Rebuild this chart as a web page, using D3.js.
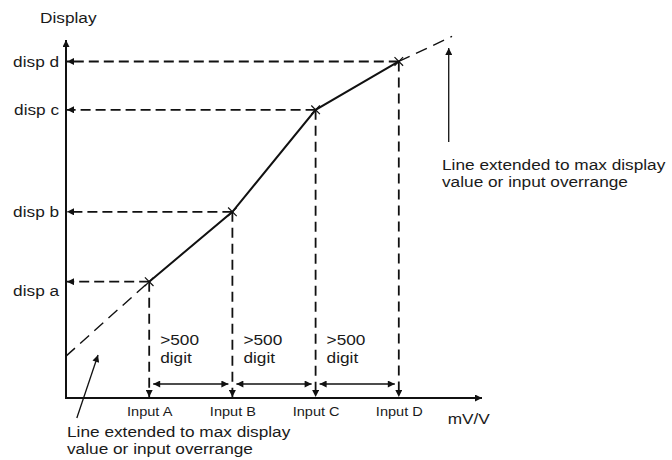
<!DOCTYPE html>
<html lang="en">
<head>
<meta charset="UTF-8">
<title>Linearisation</title>
<script src="https://cdn.jsdelivr.net/npm/d3@7"></script>
<style>
  body { margin: 0; background: #fff; }
  svg { display: block; font-family: Arial, "Liberation Sans", sans-serif; }
  text { fill: #1a1a1a; }
</style>
</head>
<body>
<div id="chart"></div>
<script>
// chart values
const inputLabels = ["Input A", "Input B", "Input C", "Input D"];
const inputVals = [1, 2, 3, 4];
const dispLabels = ["disp a", "disp b", "disp c", "disp d"];
const dispVals = [3.25, 5.2, 8.05, 9.4];
const extLow = [0, 1.17];     // start of dashed extension at the y axis
const extHigh = [4.64, 10.1]; // end of dashed extension past disp d
const gapLabels = [">500", "digit"];
const noteLines = ["Line extended to max display", "value or input overrange"];

const width = 672, height = 460;
const fs = 15;      // glyphs in the original are a bit wide, so stretch them
const sx = 1.15;

const x = d3.scaleLinear().domain([0, 5]).range([66, 482]);
const y = d3.scaleLinear().domain([0, 10]).range([398, 40]);

const svg = d3.select("#chart").append("svg")
    .attr("width", width)
    .attr("height", height);

const defs = svg.append("defs");
defs.append("marker")
    .attr("id", "arrow")
    .attr("viewBox", "0 0 10 10")
    .attr("refX", 10).attr("refY", 5)
    .attr("markerUnits", "userSpaceOnUse")
    .attr("markerWidth", 8).attr("markerHeight", 7)
    .attr("orient", "auto-start-reverse")
    .append("path").attr("d", "M0,0L10,5L0,10z").attr("fill", "#111");

const ink = "#111";

function label(px, py, lines, size, lh, scale) {
    const g = svg.append("g").attr("transform", `translate(${px},${py}) scale(${scale || sx},1)`);
    const t = g.append("text").attr("font-size", size || fs);
    lines.forEach((s, i) => t.append("tspan").attr("x", 0).attr("dy", i ? lh : 0).text(s));
    return t;
}

// axes drawn as plain arrows
svg.append("line")
    .attr("x1", x(0)).attr("y1", y(0)).attr("x2", x(0)).attr("y2", y(10))
    .attr("stroke", ink).attr("stroke-width", 2).attr("marker-end", "url(#arrow)");
svg.append("line")
    .attr("x1", x(0) - 1).attr("y1", y(0)).attr("x2", x(5)).attr("y2", y(0))
    .attr("stroke", ink).attr("stroke-width", 2).attr("marker-end", "url(#arrow)");

// tick labels
const xAxis = svg.append("g")
    .attr("transform", `translate(0,${y(0)})`)
    .call(d3.axisBottom(x).tickValues(inputVals).tickFormat((d, i) => inputLabels[i]).tickSize(0).tickPadding(9));
xAxis.select(".domain").remove();
xAxis.selectAll("text").attr("font-size", 13).attr("fill", "#1a1a1a")
    .attr("transform", "scale(1.12,1)");

const yAxis = svg.append("g")
    .attr("transform", `translate(${x(0)},0)`)
    .call(d3.axisLeft(y).tickValues(dispVals).tickFormat((d, i) => dispLabels[i]).tickSize(0).tickPadding(6));
yAxis.select(".domain").remove();
yAxis.selectAll("text").attr("font-size", fs).attr("fill", "#1a1a1a")
    .attr("dy", (d, i) => i === 0 ? "0.9em" : "0.32em")
    .attr("transform", `scale(${sx},1)`);

label(40, 23, ["Display"]);
label(x(4.6) - 1, y(-0.74), ["mV/V"]);

const pts = inputVals.map((v, i) => [v, dispVals[i]]);

// horizontal dashed guides to the y axis
svg.selectAll(".hguide").data(pts).join("line")
    .attr("x1", d => x(d[0])).attr("y1", d => y(d[1]))
    .attr("x2", x(0) + 1).attr("y2", d => y(d[1]))
    .attr("stroke", ink).attr("stroke-width", 1.8)
    .attr("stroke-dasharray", "10,5")
    .attr("marker-end", "url(#arrow)");

// vertical dashed guides to the x axis
svg.selectAll(".vguide").data(pts).join("line")
    .attr("x1", d => x(d[0])).attr("y1", d => y(d[1]))
    .attr("x2", d => x(d[0])).attr("y2", y(0) - 1)
    .attr("stroke", ink).attr("stroke-width", 1.8)
    .attr("stroke-dasharray", "10,6")
    .attr("marker-end", "url(#arrow)");

// linearised curve
svg.append("path")
    .datum(pts)
    .attr("fill", "none").attr("stroke", ink).attr("stroke-width", 2)
    .attr("d", d3.line().x(d => x(d[0])).y(d => y(d[1])));

// dashed extensions
[[extLow, pts[0]], [pts[3], extHigh]].forEach(seg => {
    svg.append("line")
        .attr("x1", x(seg[0][0])).attr("y1", y(seg[0][1]))
        .attr("x2", x(seg[1][0])).attr("y2", y(seg[1][1]))
        .attr("stroke", ink).attr("stroke-width", 1.4)
        .attr("stroke-dasharray", "12,7");
});

// x markers on the break points
svg.selectAll(".mark").data(pts).join("path")
    .attr("transform", d => `translate(${x(d[0])},${y(d[1])})`)
    .attr("d", d3.symbol(d3.symbolX, 50))
    .attr("fill", "none").attr("stroke", ink).attr("stroke-width", 1.2);

// >500 digit spans
d3.pairs(inputVals).forEach(([a, b]) => {
    svg.append("line")
        .attr("x1", x(a) + 4).attr("y1", 384)
        .attr("x2", x(b) - 4).attr("y2", 384)
        .attr("stroke", ink).attr("stroke-width", 1.5)
        .attr("marker-start", "url(#arrow)").attr("marker-end", "url(#arrow)");
    label(x(a) + 11, 345, gapLabels, fs, 18);
});

// pointer arrows with notes
svg.append("line")
    .attr("x1", x(0.13)).attr("y1", y(-0.56)).attr("x2", x(0.385)).attr("y2", y(1.2))
    .attr("stroke", ink).attr("stroke-width", 1.3).attr("marker-end", "url(#arrow)");
svg.append("line")
    .attr("x1", x(4.6)).attr("y1", y(7.15)).attr("x2", x(4.6)).attr("y2", y(9.78))
    .attr("stroke", ink).attr("stroke-width", 1.3).attr("marker-end", "url(#arrow)");

label(442, 170, noteLines, fs, 17);
label(67, 437, noteLines, fs, 17);
</script>
</body>
</html>
